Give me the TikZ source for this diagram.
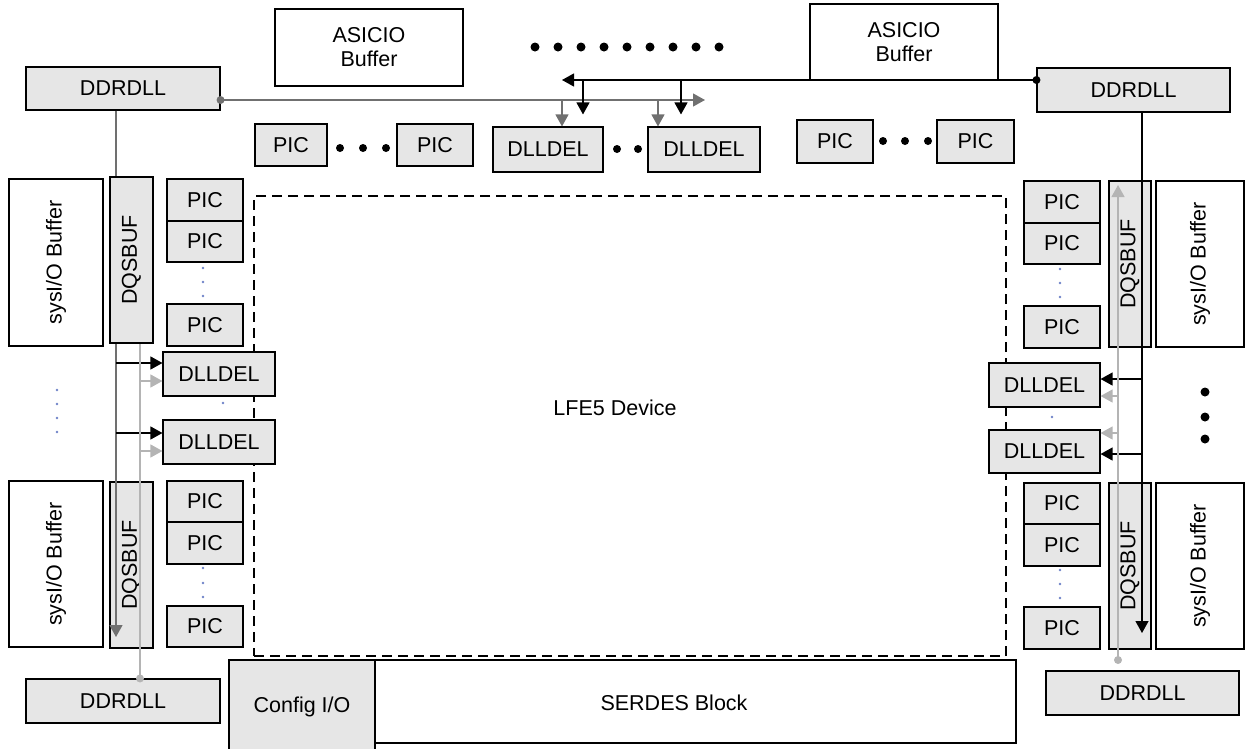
\documentclass[tikz,border=0pt]{standalone}
\usepackage{fontspec}
\setmainfont{Liberation Sans}
\usepackage{graphicx}
\usetikzlibrary{arrows.meta}
\definecolor{boxgray}{RGB}{230,230,230}
\definecolor{linedark}{RGB}{112,112,112}
\definecolor{linelight}{RGB}{180,180,180}
\definecolor{dotblue}{RGB}{110,130,200}
\tikzset{blk/.style={draw, line width=1.1pt, inner sep=0pt, align=center,
                     font=\fontsize{21.5}{24}\selectfont},
         gblk/.style={blk, fill=boxgray},
         wblk/.style={blk, fill=white},
         txt/.style={font=\fontsize{21.5}{24}\selectfont},
         bline/.style={line width=1.2pt, -{Triangle[length=12pt,width=13pt]}},
         gline/.style={bline, draw=linedark, fill=linedark},
         lline/.style={bline, draw=linelight, fill=linelight}}

\begin{document}
\begin{tikzpicture}[x=1pt, y=-1pt]
        \useasboundingbox (0,0) rectangle (1245,748);

        % Device outline
        \node[draw, dash pattern=on 10pt off 6pt, line width=1.2pt,
              minimum width=752, minimum height=460] (dev) at (630,426) {};
        \node[txt] (devlbl) at (615,408) {LFE5 Device};

        % Top row
        \node[gblk, minimum width=194, minimum height=43] (ddrTL) at (123,88.5) {DDRDLL};
        \node[wblk, minimum width=188, minimum height=77] (asicL) at (369,47.5) {ASICIO\\Buffer};
        \node[wblk, minimum width=188, minimum height=76] (asicR) at (904,42) {ASICIO\\Buffer};
        \node[gblk, minimum width=193, minimum height=44] (ddrTR) at (1133.5,90) {DDRDLL};
        \node[gblk, minimum width=72, minimum height=42] (picT1) at (291,145) {PIC};
        \node[gblk, minimum width=76, minimum height=42] (picT2) at (435,145) {PIC};
        \node[gblk, minimum width=110, minimum height=45] (delT1) at (548,149.5) {DLLDEL};
        \node[gblk, minimum width=112, minimum height=45] (delT2) at (704,149.5) {DLLDEL};
        \node[gblk, minimum width=76, minimum height=43] (picT3) at (835,141.5) {PIC};
        \node[gblk, minimum width=77, minimum height=43] (picT4) at (975.5,141.5) {PIC};
        \fill (535,47) circle (4.5pt) (558,47) circle (4.5pt) (581,47) circle (4.5pt)
              (604,47) circle (4.5pt) (627,47) circle (4.5pt) (650,47) circle (4.5pt)
              (673,47) circle (4.5pt) (696,47) circle (4.5pt) (719,47) circle (4.5pt);
        \fill (340,148) circle (4pt) (363,148) circle (4pt) (386,148) circle (4pt);
        \fill (617,149) circle (4pt) (638,149) circle (4pt);
        \fill (883,141) circle (4pt) (905,141) circle (4pt) (928,141) circle (4pt);

        % Left column
        \node[wblk, minimum width=94, minimum height=167] (sysL1) at (56,262.5) {\rotatebox{90}{sysI/O Buffer}};
        \node[gblk, minimum width=76, minimum height=42] (picL1) at (205,200) {PIC};
        \node[gblk, minimum width=76, minimum height=41] (picL2) at (205,241.5) {PIC};
        \node[gblk, minimum width=76, minimum height=42] (picL3) at (205,325) {PIC};
        \node[gblk, minimum width=112, minimum height=44] (delL1) at (219,374) {DLLDEL};
        \node[gblk, minimum width=112, minimum height=44] (delL2) at (219,442) {DLLDEL};
        \node[wblk, minimum width=94, minimum height=166] (sysL2) at (56,564) {\rotatebox{90}{sysI/O Buffer}};
        \node[gblk, minimum width=43, minimum height=166] (dqsL2) at (131.5,565) {\rotatebox{90}{DQSBUF}};
        \node[gblk, minimum width=76, minimum height=41] (picL4) at (205,501.5) {PIC};
        \node[gblk, minimum width=76, minimum height=42] (picL5) at (205,543) {PIC};
        \node[gblk, minimum width=76, minimum height=41] (picL6) at (205,626.5) {PIC};
        \node[gblk, minimum width=194, minimum height=44] (ddrBL) at (123,701) {DDRDLL};
        \fill[dotblue] (203,268) circle (1.3pt) (203,282) circle (1.3pt) (203,296) circle (1.3pt)
                       (203,568) circle (1.3pt) (203,583) circle (1.3pt) (203,597) circle (1.3pt)
                       (223,403) circle (1.3pt)
                       (57,390) circle (1.3pt) (57,404) circle (1.3pt) (57,418) circle (1.3pt) (57,432) circle (1.3pt);

        % Right column
        \node[gblk, minimum width=76, minimum height=42] (picR1) at (1062,202) {PIC};
        \node[gblk, minimum width=76, minimum height=41] (picR2) at (1062,243.5) {PIC};
        \node[gblk, minimum width=76, minimum height=42] (picR3) at (1062,327) {PIC};
        \node[gblk, minimum width=42, minimum height=166] (dqsR1) at (1130,264) {\rotatebox{90}{DQSBUF}};
        \node[wblk, minimum width=88, minimum height=166] (sysR1) at (1200,264) {\rotatebox{90}{sysI/O Buffer}};
        \node[gblk, minimum width=111, minimum height=44] (delR1) at (1044.5,385) {DLLDEL};
        \node[gblk, minimum width=111, minimum height=43] (delR2) at (1044.5,451.5) {DLLDEL};
        \node[gblk, minimum width=76, minimum height=41] (picR4) at (1062,503.5) {PIC};
        \node[gblk, minimum width=76, minimum height=42] (picR5) at (1062,545) {PIC};
        \node[gblk, minimum width=76, minimum height=42] (picR6) at (1062,628) {PIC};
        \node[gblk, minimum width=42, minimum height=166] (dqsR2) at (1130,566) {\rotatebox{90}{DQSBUF}};
        \node[wblk, minimum width=88, minimum height=166] (sysR2) at (1200,566) {\rotatebox{90}{sysI/O Buffer}};
        \node[gblk, minimum width=193, minimum height=44] (ddrBR) at (1142.5,693) {DDRDLL};
        \fill[dotblue] (1060,269) circle (1.3pt) (1060,283) circle (1.3pt) (1060,297) circle (1.3pt)
                       (1060,570) circle (1.3pt) (1060,584) circle (1.3pt) (1060,598) circle (1.3pt)
                       (1052,417) circle (1.3pt);
        \fill (1205,392) circle (4.5pt) (1205,417) circle (4.5pt) (1205,439) circle (4.5pt);

        % Bottom row
        \node[gblk, minimum width=146, minimum height=94] (cfg) at (302,707) {Config I/O};
        \node[wblk, minimum width=641, minimum height=83] (serdes) at (695.5,701.5) {};
        \node[txt] (serlbl) at (674,703) {SERDES Block};

        % Top buses
        \coordinate (gEnd) at (705,100);
        \coordinate (gA) at (562,100);
        \coordinate (gB) at (658,100);
        \draw[gline] (ddrTL.east |- gEnd) -- (gEnd);
        \fill[linedark] (ddrTL.east |- gEnd) circle (4pt);
        \draw[gline] (gA) -- (gA |- delT1.north);
        \draw[gline] (gB) -- (gB |- delT2.north);
        \coordinate (bEnd) at (562,80);
        \coordinate (bA) at (583,80);
        \coordinate (bB) at (681,80);
        \draw[bline] (ddrTR.west |- bEnd) -- (bEnd);
        \fill (ddrTR.west |- bEnd) circle (4pt);
        \draw[bline, shorten >=12pt] (bA) -- (bA |- delT1.north);
        \draw[bline, shorten >=12pt] (bB) -- (bB |- delT2.north);

        % Right side lines
        \coordinate (bR) at (1142,633);
        \draw[bline] (ddrTR.south -| bR) -- (bR);
        \coordinate (r1) at (1142,379);
        \coordinate (r2) at (1142,454);
        \draw[bline] (r1) -- (r1 -| delR1.east);
        \draw[bline] (r2) -- (r2 -| delR2.east);
        \coordinate (lR) at (1118,660);
        \coordinate (lRtop) at (1118,185);
        \draw[lline] (lR) -- (lRtop);
        \fill[linelight] (lR) circle (4pt);
        \coordinate (r3) at (1118,396);
        \coordinate (r4) at (1118,433);
        \draw[lline] (r3) -- (r3 -| delR1.east);
        \draw[lline] (r4) -- (r4 -| delR2.east);

        % Left side lines
        \coordinate (gL) at (116,637);
        \draw[gline] (ddrTL.south -| gL) -- (gL);
        \coordinate (l1) at (116,363);
        \coordinate (l2) at (116,433);
        \draw[bline] (l1) -- (l1 -| delL1.west);
        \draw[bline] (l2) -- (l2 -| delL2.west);
        \coordinate (lL) at (140,343);
        \draw[lline, -] (ddrBL.north -| lL) -- (lL);
        \fill[linelight] (ddrBL.north -| lL) circle (4pt);
        \coordinate (l3) at (140,381);
        \coordinate (l4) at (140,451);
        \draw[lline] (l3) -- (l3 -| delL1.west);
        \draw[lline] (l4) -- (l4 -| delL2.west);

        % Upper DQSBUF over the trunk
        \node[gblk, minimum width=43, minimum height=166] (dqsL1) at (131.5,260) {\rotatebox{90}{DQSBUF}};

    \end{tikzpicture}
\end{document}
